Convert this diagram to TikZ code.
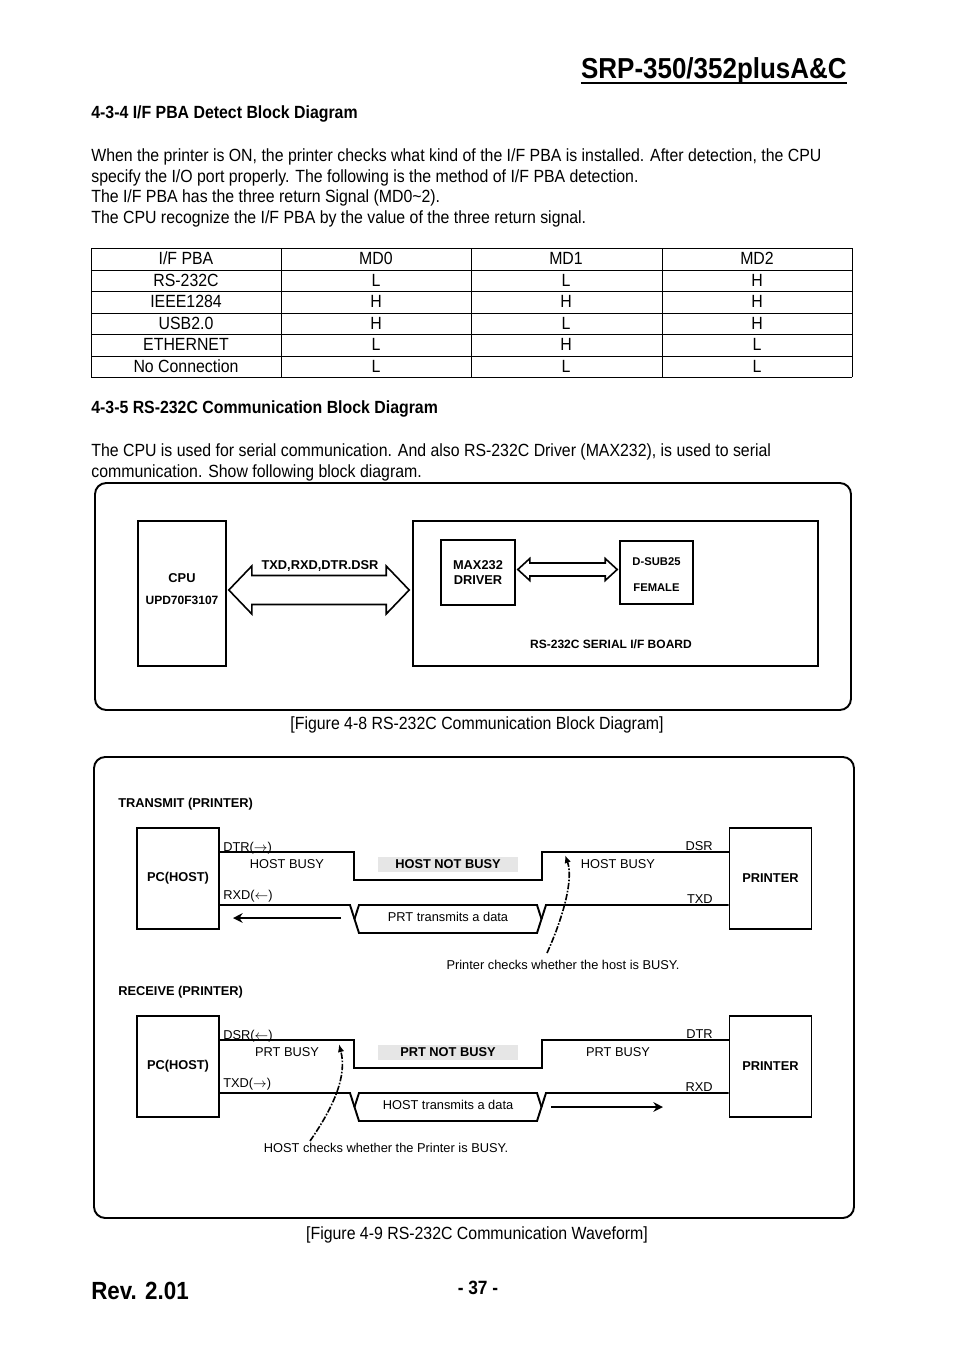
\documentclass[tikz,border=0pt]{standalone}
\usepackage{fontspec}
\setmainfont[FakeStretch=0.9]{Liberation Sans}
\newfontfamily\diagfont{Liberation Sans}
\usepackage{tikz}
\usetikzlibrary{arrows.meta,calc,positioning}
\definecolor{notbusygray}{RGB}{230,230,230}
\newcommand{\pxu}{0.6238pt}
\newcommand{\arr}[1]{{\fontsize{8}{9}\selectfont$#1$}}
% pusta strzalka szyny: lewy koniec, prawy koniec, pol. grotu, pol. trzonu, dl. grotu
\newcommand{\busarrow}[5]{%
 \draw[busline] (#1) -- ($(#1)+(#5,-#3)$) -- ($(#1)+(#5,-#4)$)
  -- ($(#2)+(-#5,-#4)$) -- ($(#2)+(-#5,-#3)$) -- (#2)
  -- ($(#2)+(-#5,#3)$) -- ($(#2)+(-#5,#4)$)
  -- ($(#1)+(#5,#4)$) -- ($(#1)+(#5,#3)$) -- cycle;}

\begin{document}
\begin{tikzpicture}[>=Stealth,line join=miter,x=0.6238pt,y=-0.6238pt,
 txt/.style={anchor=base west,inner sep=0pt,font=\fontsize{11}{13}\selectfont},
 head/.style={anchor=base west,inner sep=0pt,font=\fontsize{11}{13}\selectfont\bfseries},
 cell/.style={anchor=base,inner sep=0pt,font=\fontsize{11}{13}\selectfont},
 grid/.style={line width=0.6pt},
 frame/.style={line width=1.2pt,rounded corners=7pt},
 blockbox/.style={draw,line width=1pt,inner sep=0pt},
 blocklbl/.style={inner sep=0pt,font=\diagfont\fontsize{8}{9}\selectfont\bfseries},
 busline/.style={line width=1pt},
 wavebox/.style={draw,line width=1.2pt,inner sep=0pt,minimum width=82*\pxu,
  minimum height=101*\pxu,font=\diagfont\fontsize{8}{9}\selectfont\bfseries},
 wave/.style={line width=1.2pt},
 sig/.style={inner sep=0pt,font=\diagfont\fontsize{8}{9}\selectfont},
 notbusy/.style={fill=notbusygray,inner sep=0pt,minimum width=140*\pxu,
  minimum height=15*\pxu,font=\diagfont\fontsize{8}{9}\selectfont\bfseries},
 datadir/.style={line width=1.3pt,-{Stealth[length=6pt,width=6pt]}},
 check/.style={line width=1pt,dash pattern=on 4pt off 1pt on 1pt off 1pt,
  -{Latex[length=5pt,width=4pt]}}]
 \useasboundingbox (0,0) rectangle (954,1350);
 % Naglowek strony.
 \node[anchor=base east,inner sep=0pt,font=\fontsize{18}{21}\selectfont\bfseries]
  (title) at (847,78) {SRP-350/352plusA\&C};
 \draw[line width=1.3pt] ([yshift=-3pt]title.base west)
  -- ([yshift=-3pt]title.base east);
 % Punkt 4-3-4 z tabela.
 \node[head] (sec434) at (91,118) {4-3-4 I/F PBA Detect Block Diagram};
 \node[txt] (p1) at (91,161) {When the printer is ON, the printer checks what kind of the I/F PBA is installed. After detection, the CPU};
 \node[txt] (p2) at (91,182) {specify the I/O port properly. The following is the method of I/F PBA detection.};
 \node[txt] (p3) at (91,202) {The I/F PBA has the three return Signal (MD0\textasciitilde2).};
 \node[txt] (p4) at (91,223) {The CPU recognize the I/F PBA by the value of the three return signal.};
 \foreach \y in {248,270,291,313,334,356,377}
  \draw[grid] (91,\y) -- (852,\y);
 \foreach \x in {91,281,471,662,852}
  \draw[grid] (\x,248) -- (\x,377);
 \foreach \name/\a/\b/\c [count=\r from 0] in
  {{I/F PBA}/MD0/MD1/MD2,RS-232C/L/L/H,IEEE1284/H/H/H,
   USB2.0/H/L/H,ETHERNET/L/H/L,No Connection/L/L/L} {
  \node[cell] (pba\r) at (186,{264.5+21.5*\r}) {\name};
  \node[cell] (mda\r) at (376,{264.5+21.5*\r}) {\a};
  \node[cell] (mdb\r) at (566,{264.5+21.5*\r}) {\b};
  \node[cell] (mdc\r) at (757,{264.5+21.5*\r}) {\c};
 }
 % Punkt 4-3-5.
 \node[head] (sec435) at (91,413) {4-3-5 RS-232C Communication Block Diagram};
 \node[txt] (p5) at (91,456) {The CPU is used for serial communication. And also RS-232C Driver (MAX232), is used to serial};
 \node[txt] (p6) at (91,477) {communication. Show following block diagram.};
 % Rysunek 4-8: schemat blokowy.
 \draw[frame] (95,483) rectangle (851,710);
 \node[blockbox,minimum width=88*\pxu,minimum height=145*\pxu] (cpu) at (182,593.5) {};
 \node[blocklbl] (cpuname) at (182,578) {CPU};
 \node[blocklbl,font=\diagfont\fontsize{7.5}{9}\selectfont\bfseries]
  (cpuchip) at (182,600) {UPD70F3107};
 \node[blockbox,minimum width=405*\pxu,minimum height=145*\pxu] (board) at (615.5,593.5) {};
 \node[blockbox,minimum width=74*\pxu,minimum height=65*\pxu] (driver) at (478,572.5) {};
 \node[blocklbl] (drva) at (478,565) {MAX232};
 \node[blocklbl] (drvb) at (478,580) {DRIVER};
 \node[blockbox,minimum width=73*\pxu,minimum height=63*\pxu] (dsub) at (656.5,572.5) {};
 \node[blocklbl,font=\diagfont\fontsize{7}{8}\selectfont\bfseries] (dsuba) at (656.5,562) {D-SUB25};
 \node[blocklbl,font=\diagfont\fontsize{7}{8}\selectfont\bfseries] (dsubb) at (656.5,588) {FEMALE};
 \node[blocklbl,font=\diagfont\fontsize{7.5}{8}\selectfont\bfseries]
  (boardname) at (611,644) {RS-232C SERIAL I/F BOARD};
 \node[blocklbl] (buslbl) at (320,566) {TXD,RXD,DTR.DSR};
 \coordinate (busL) at ($(cpu.east)+(2,-3.5)$);
 \coordinate (busR) at ($(board.west)+(-3,-3.5)$);
 \busarrow{busL}{busR}{24}{14.5}{23}
 \coordinate (linkL) at ($(driver.east)+(2,-3)$);
 \coordinate (linkR) at ($(dsub.west)+(-2,-3)$);
 \busarrow{linkL}{linkR}{11}{6.5}{12}
 \node[cell] (fig48) at (477,729) {[Figure 4-8 RS-232C Communication Block Diagram]};
 % Rysunek 4-9: przebiegi nadawania i odbioru.
 \draw[frame] (94,757) rectangle (854,1218);
 \foreach \dy/\k/\ttl/\who/\src/\lhi/\llo/\rhi/\rlo in
  {0/T/TRANSMIT/HOST/PRT/DTR(\arr{\rightarrow})/RXD(\arr{\leftarrow})/DSR/TXD,
   188/R/RECEIVE/PRT/HOST/DSR(\arr{\leftarrow})/TXD(\arr{\rightarrow})/DTR/RXD} {
  \node[sig,anchor=base west,font=\diagfont\fontsize{8}{9}\selectfont\bfseries]
   (mode\k) at (118,{807+\dy}) {\ttl\ (PRINTER)};
  \node[wavebox] (pc\k) at (178,{878.5+\dy}) {PC(HOST)};
  \node[wavebox] (prn\k) at (770.5,{878.5+\dy}) {PRINTER};
  \draw[wave] (pc\k.east |- 0,{852+\dy}) -- (354,{852+\dy}) -- (354,{880+\dy})
   -- (542,{880+\dy}) -- (542,{852+\dy}) -- (prn\k.west |- 0,{852+\dy});
  \draw[wave] (pc\k.east |- 0,{905+\dy}) -- (350,{905+\dy}) -- (359,{933+\dy})
   -- (537,{933+\dy}) -- (546,{905+\dy}) -- (prn\k.west |- 0,{905+\dy});
  \draw[wave] (354.5,{919+\dy}) -- (359,{905+\dy}) -- (537,{905+\dy}) -- (541.5,{919+\dy});
  \node[sig,anchor=base west] (hi\k) at (223,{851+\dy}) {\lhi};
  \node[sig,anchor=base west] (lo\k) at (223,{899+\dy}) {\llo};
  \node[sig,anchor=base east] (rhi\k) at (713,{850+\dy}) {\rhi};
  \node[sig,anchor=base east] (rlo\k) at (713,{903+\dy}) {\rlo};
  \node[sig] (busyl\k) at (287,{864+\dy}) {\who\ BUSY};
  \node[sig] (busyr\k) at (618,{864+\dy}) {\who\ BUSY};
  \node[notbusy] (free\k) at (448,{864+\dy}) {\who\ NOT BUSY};
  \node[sig] (data\k) at (448,{917+\dy}) {\src\ transmits a data};
 }
 % Kierunek danych i sprawdzanie zajetosci.
 \coordinate (rxdfrom) at (341,918);
 \coordinate (rxdto) at (233,918);
 \draw[datadir] (rxdfrom) -- (rxdto);
 \coordinate (txdfrom) at (551,1107);
 \coordinate (txdto) at (663,1107);
 \draw[datadir] (txdfrom) -- (txdto);
 \node[sig] (checkT) at (563,965) {Printer checks whether the host is BUSY.};
 \coordinate (checkTfoot) at (547,953);
 \coordinate (checkTtip) at (565,855);
 \draw[check] (checkTfoot) .. controls (562,920) and (574,880) .. (checkTtip);
 \node[sig] (checkR) at (386,1148) {HOST checks whether the Printer is BUSY.};
 \coordinate (checkRfoot) at (310,1141);
 \coordinate (checkRtip) at (339,1044);
 \draw[check] (checkRfoot) .. controls (335,1105) and (347,1075) .. (checkRtip);
 \node[cell] (fig49) at (477,1239) {[Figure 4-9 RS-232C Communication Waveform]};
 % Stopka.
 \node[anchor=base west,inner sep=0pt,font=\fontsize{15.5}{18}\selectfont\bfseries]
  (rev) at (91,1299) {Rev. 2.01};
 \node[anchor=base,inner sep=0pt,font=\fontsize{12}{14}\selectfont\bfseries]
  (pageno) at (478,1294) {- 37 -};
\end{tikzpicture}
\end{document}
